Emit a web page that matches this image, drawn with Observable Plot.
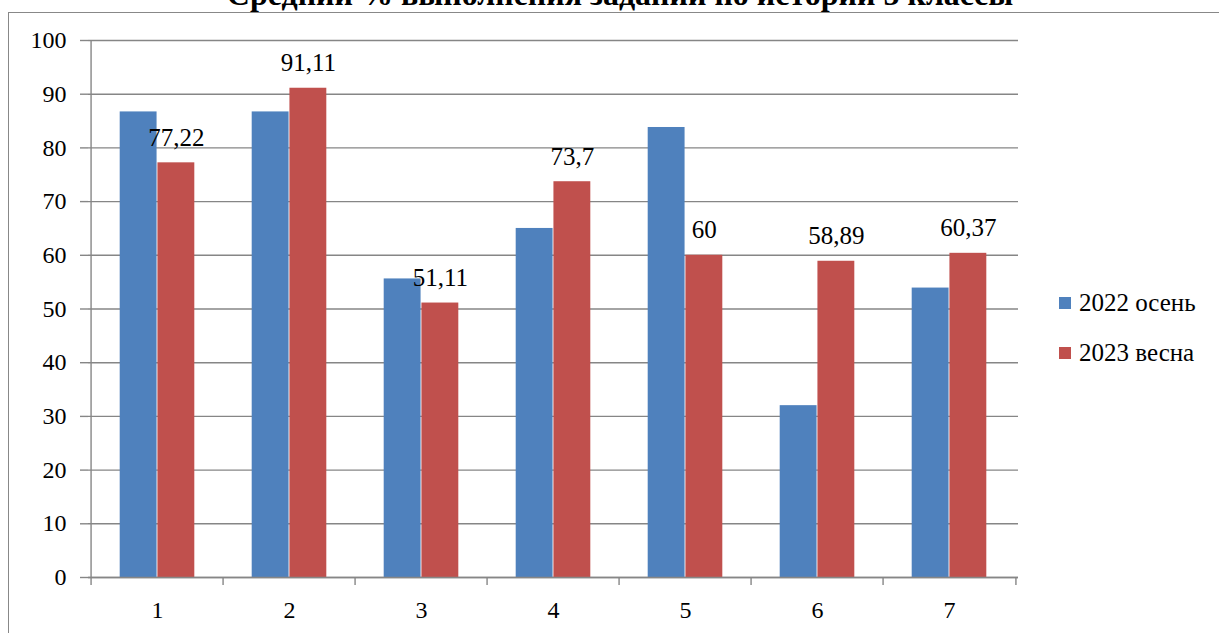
<!DOCTYPE html>
<html>
<head>
<meta charset="utf-8">
<script src="https://cdn.jsdelivr.net/npm/d3@7"></script>
<script src="https://cdn.jsdelivr.net/npm/@observablehq/plot@0.6"></script>
<style>
  html, body { margin: 0; padding: 0; background: #fff; }
  #wrap { position: relative; width: 1219px; height: 633px; overflow: hidden; background: #fff; font-family: 'Liberation Serif', serif; }
  #frame { position: absolute; left: 8px; top: 12px; width: 1230px; height: 640px; border-left: 1.5px solid #888; border-top: 1.5px solid #888; box-sizing: border-box; }
  #title { position: absolute; left: 0; width: 1240px; text-align: center; top: -23px; font-weight: bold; font-size: 32px; line-height: 34px; color: #000; white-space: nowrap; font-family: 'Liberation Serif', serif; }
  #chart { position: absolute; left: 0; top: 0; }
  .legend { position: absolute; left: 1059px; font-size: 25px; color: #000; white-space: nowrap; font-family: 'Liberation Serif', serif; }
  .legend span.sw { position: absolute; left: 0; width: 12px; height: 12px; }
  .legend span.lab { position: absolute; left: 20px; line-height: 26px; }
</style>
</head>
<body>
<div id="wrap">
  <div id="frame"></div>
  <div id="title"></div>
  <div id="chart"></div>
  <div id="legend"></div>
</div>
<script>
const titleText = "Средний % выполнения заданий по истории 5 классы";
const categories = ["1", "2", "3", "4", "5", "6", "7"];
const seriesNames = ["2022 осень", "2023 весна"];
const autumn2022 = [86.7, 86.7, 55.6, 65.0, 83.8, 32.0, 53.9];
const spring2023 = [77.22, 91.11, 51.11, 73.7, 60, 58.89, 60.37];
const yTicks = [0, 10, 20, 30, 40, 50, 60, 70, 80, 90, 100];
const colors = ["#4F81BD", "#C0504D"];

document.getElementById("title").textContent = titleText;

const W = 1219, H = 633;
const mL = 88, mR = 201, mT = 40, mB = 56;
const step = (W - mL - mR) / categories.length;
const barW = step * 0.284;
const outer = (step - 2 * barW) / 2;

const rowsA = categories.map((c, i) => ({cat: c, value: autumn2022[i]}));
const rowsB = categories.map((c, i) => ({cat: c, value: spring2023[i], label: String(spring2023[i]).replace(".", ",")}));

const grey = "#868686";
const font = "'Liberation Serif', serif";

const chart = Plot.plot({
  width: W,
  height: H,
  marginLeft: mL,
  marginRight: mR,
  marginTop: mT,
  marginBottom: mB,
  style: {fontFamily: font, background: "transparent", color: "#000", overflow: "visible"},
  x: {type: "band", domain: categories, paddingInner: 0, paddingOuter: 0},
  y: {domain: [0, 100]},
  marks: [
    Plot.gridY(yTicks, {stroke: grey, strokeOpacity: 1, strokeWidth: 1.4}),
    Plot.barY(rowsA, {x: "cat", y: "value", fill: colors[0], insetLeft: outer, insetRight: outer + barW}),
    Plot.barY(rowsB, {x: "cat", y: "value", fill: colors[1], insetLeft: outer + barW, insetRight: outer}),
    Plot.ruleX([categories[0]], {dx: -step / 2, y1: 0, y2: 100, stroke: grey, strokeWidth: 1.4}),
    Plot.ruleY([0], {stroke: grey, strokeWidth: 1.4}),
    Plot.ruleX(categories, {dx: -step / 2, y1: 0, y2: 0, insetBottom: -8, stroke: grey, strokeWidth: 1.4}),
    Plot.ruleX([categories[categories.length - 1]], {dx: step / 2, y1: 0, y2: 0, insetBottom: -8, stroke: grey, strokeWidth: 1.4}),
    Plot.axisY(yTicks, {tickSize: 8, tickPadding: 14, stroke: grey, strokeWidth: 1.4, fontSize: 24, fill: "#000", label: null}),
    Plot.axisX({tickSize: 0, tickPadding: 23, fontSize: 24, fill: "#000", label: null}),
    Plot.text(rowsB, {x: "cat", y: "value", text: "label", dx: barW / 2, dy: -25, fontSize: 25, fill: "#000"})
  ]
});
document.getElementById("chart").appendChild(chart);
chart.querySelectorAll("text").forEach(t => t.setAttribute("font-family", "Liberation Serif"));

const legend = document.getElementById("legend");
const legendTops = [290, 340];
seriesNames.forEach((name, i) => {
  const item = document.createElement("div");
  item.className = "legend";
  item.style.top = legendTops[i] + "px";
  item.innerHTML = `<span class="sw" style="top:7px;background:${colors[i]}"></span><span class="lab" style="top:0">${name}</span>`;
  legend.appendChild(item);
});
</script>
</body>
</html>
